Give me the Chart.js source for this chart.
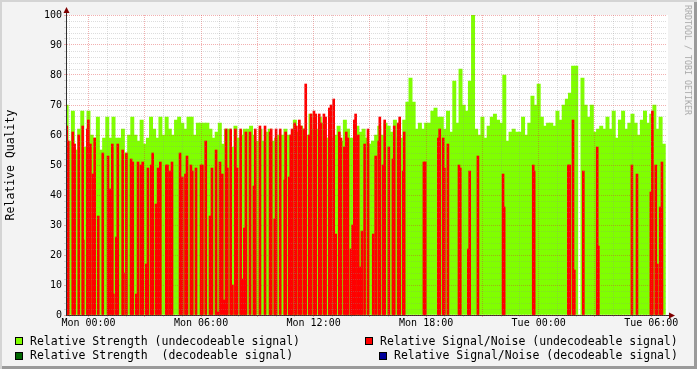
<!DOCTYPE html>
<html>
<head>
<meta charset="utf-8">
<script src="https://cdn.jsdelivr.net/npm/chart.js@4.4.1/dist/chart.umd.min.js"></script>
<style>
  html, body { margin: 0; padding: 0; }
  #wrap {
    position: relative; width: 697px; height: 369px; overflow: hidden;
    background: #f3f3f3;
    box-shadow: inset 2px 2px 0 #d4d4d4, inset -3px -3px 0 #9a9a9a;
    font-family: 'DejaVu Sans Mono', monospace;
  }
  #chart { position: absolute; left: 0; top: 0; }
  .lg { position: absolute; font-size: 11.5px; line-height: 14px; white-space: pre; color: #000; }
  .box { position: absolute; width: 6px; height: 6px; border: 1px solid #000; }
  #wm {
    position: absolute; left: 688px; top: 60px; font-size: 8.3px; color: #a8a8a8;
    white-space: pre; transform: translate(-50%, -50%) rotate(90deg);
  }
</style>
</head>
<body>
<div id="wrap">
  <canvas id="chart" width="697" height="369"></canvas>
  <div id="wm">RRDTOOL / TOBI OETIKER</div>

  <span class="box" style="left:15px;top:337px;background:#80ff00"></span>
  <div class="lg" style="left:30px;top:334px">Relative Strength (undecodeable signal)</div>
  <span class="box" style="left:15px;top:352px;background:#006600"></span>
  <div class="lg" style="left:30px;top:348px">Relative Strength  (decodeable signal)</div>

  <span class="box" style="left:365px;top:337px;background:#ff0000"></span>
  <div class="lg" style="left:380px;top:334px">Relative Signal/Noise (undecodeable signal)</div>
  <span class="box" style="left:379px;top:352px;background:#000099"></span>
  <div class="lg" style="left:394px;top:348px">Relative Signal/Noise (decodeable signal)</div>
</div>

<script>
// time window, hours from Mon 00:00
var xMin = -1.2;
var xMax = 30.84;

// relative strength, undecodeable signal: one value per 10 minutes from Sun 22:50
var firstMin = -70;
var stepMin = 10;
var strengthUndecoded = [
  70, 58, 68, 55, 62, 68, 56, 68, 60, 59, 66, 55,
  59, 66, 59, 66, 59, 59, 62, 54, 60, 66, 60, 58,
  65, 57, 59, 66, 62, 59, 66, 60, 66, 62, 60, 65,
  66, 64, 62, 66, 66, 60, 64, 64, 64, 64, 62, 59,
  61, 64, 57, 62, 62, 56, 63, 59, 60, 62, 62, 63,
  60, 58, 62, 58, 61, 62, 58, 59, 60, 60, 62, 60,
  60, 65, 61, 63, 62, 60, 67, 62, 62, 66, 64, 59,
  59, 59, 60, 63, 58, 65, 62, 59, 58, 63, 61, 62,
  59, 57, 58, 60, 63, 60, 64, 63, 61, 65, 59, 59,
  65, 71, 79, 71, 62, 64, 62, 64, 64, 68, 69, 66,
  66, 62, 68, 61, 78, 64, 82, 70, 68, 78, 100, 62,
  60, 66, 59, 63, 66, 67, 65, 64, 80, 58, 61, 62,
  61, 61, 66, 60, 64, 73, 70, 77, 66, 63, 64, 64,
  63, 68, 65, 70, 72, 74, 83, 83, 0, 79, 70, 66,
  70, 61, 62, 63, 62, 66, 62, 68, 59, 65, 68, 62,
  64, 67, 64, 60, 65, 68, 64, 67, 70, 62, 66, 57
];

// relative signal/noise, undecodeable signal: sample time (hours) and value
var snrHours = [
  -1.16, -1.08, -0.84, -0.74, -0.52, -0.31, -0.28, -0.06, -0.01, 0.10,
  0.24, 0.33, 0.52, 0.76, 1.04, 1.13, 1.27, 1.32, 1.48, 1.56,
  1.82, 1.86, 2.02, 2.27, 2.36, 2.55, 2.64, 2.80, 2.89, 3.08,
  3.17, 3.35, 3.42, 3.60, 3.71, 3.83, 4.15, 4.21, 4.34, 4.45,
  4.88, 5.00, 5.17, 5.25, 5.46, 5.53, 5.73, 6.00, 6.07, 6.25,
  6.48, 6.58, 6.80, 6.89, 7.01, 7.13, 7.24, 7.33, 7.40, 7.58,
  7.67, 7.83, 7.92, 8.11, 8.20, 8.31, 8.39, 8.61, 8.82, 8.89,
  9.14, 9.41, 9.68, 9.74, 9.93, 10.00, 10.22, 10.46, 10.51, 10.70,
  10.78, 10.85, 10.99, 11.08, 11.24, 11.33, 11.49, 11.58, 11.77, 11.86,
  12.02, 12.11, 12.30, 12.38, 12.55, 12.64, 12.84, 12.93, 13.07, 13.18,
  13.37, 13.46, 13.64, 13.74, 13.83, 13.99, 14.08, 14.17, 14.24, 14.38,
  14.49, 14.58, 14.72, 14.90, 15.18, 15.31, 15.47, 15.53, 15.71, 15.79,
  16.01, 16.23, 16.30, 16.51, 16.59, 16.78, 16.83, 17.88, 17.95, 18.65,
  18.72, 18.91, 18.97, 19.16, 19.75, 19.82, 20.25, 20.32, 20.76, 22.10,
  22.16, 23.71, 23.76, 25.58, 25.65, 25.83, 25.90, 26.38, 27.12, 27.18,
  28.97, 29.24, 29.98, 30.06, 30.24, 30.32, 30.48, 30.57
];
var snrUndecoded = [
  63, 58, 61, 57, 60, 63, 25, 62, 65, 57,
  47, 59, 33, 54, 53, 42, 57, 7, 26, 57,
  55, 14, 54, 52, 51, 7, 51, 50, 51, 17,
  49, 50, 54, 37, 49, 51, 50, 50, 48, 51,
  54, 46, 47, 53, 50, 48, 49, 50, 50, 58,
  33, 49, 55, 1, 51, 47, 5, 62, 49, 62,
  10, 62, 49, 62, 12, 29, 61, 61, 43, 62,
  63, 63, 61, 62, 32, 62, 62, 45, 61, 46,
  60, 62, 64, 63, 65, 63, 62, 77, 60, 67,
  68, 67, 67, 64, 67, 66, 69, 70, 72, 27,
  61, 59, 56, 61, 59, 22, 30, 65, 67, 60,
  16, 28, 57, 62, 27, 53, 58, 66, 50, 65,
  56, 52, 63, 64, 66, 48, 61, 51, 51, 59,
  62, 59, 49, 57, 50, 49, 22, 48, 53, 47,
  36, 50, 48, 50, 50, 65, 15, 48, 56, 23,
  50, 47, 41, 68, 50, 17, 36, 51
];

// decodeable signal: nothing in this window
var strengthDecoded = [];
var snrDecoded = [];

// grid: every hour / every 2 units, major every 3 hours / 10 units
var hourTicks = [];
for (var h = -1; h <= 30; h++) hourTicks.push(h);
var qualityTicks = [];
for (var q = 0; q <= 100; q += 2) qualityTicks.push(q);

var fontFamily = "'DejaVu Sans Mono', monospace";

function gridColor(major) {
  return major ? 'rgba(222, 48, 48, 0.38)' : 'rgba(143, 143, 143, 0.3)';
}

function hourLabel(v) {
  if (v < 0 || v % 6 !== 0) return '';
  var day = v < 24 ? 'Mon' : 'Tue';
  var hh = v % 24;
  return day + ' ' + (hh < 10 ? '0' : '') + hh + ':00';
}

var strengthPoints = strengthUndecoded.map(function(v, i) {
  return { x: (firstMin + i * stepMin) / 60, y: v };
});
var snrPoints = snrHours.map(function(h, i) {
  return { x: h, y: snrUndecoded[i] };
});

// white canvas + rrdtool style arrows
var rrdFrame = {
  id: 'rrdFrame',
  beforeDraw: function(chart) {
    var ctx = chart.ctx, a = chart.chartArea;
    ctx.save();
    ctx.fillStyle = '#ffffff';
    ctx.fillRect(a.left, a.top, a.right - a.left + 1, a.bottom - a.top);
    ctx.restore();
  },
  afterDraw: function(chart) {
    var ctx = chart.ctx, a = chart.chartArea;
    var x0 = Math.round(a.left) + 0.5, y0 = Math.round(a.bottom) + 0.5;
    ctx.save();
    ctx.strokeStyle = '#303030';
    ctx.lineWidth = 1;
    ctx.beginPath();
    ctx.moveTo(x0, a.top); ctx.lineTo(x0, a.top - 3);
    ctx.moveTo(a.right, y0); ctx.lineTo(a.right + 2, y0);
    ctx.stroke();
    ctx.fillStyle = '#800000';
    ctx.beginPath();
    ctx.moveTo(x0, a.top - 8); ctx.lineTo(x0 - 3, a.top - 2); ctx.lineTo(x0 + 3, a.top - 2);
    ctx.closePath(); ctx.fill();
    ctx.beginPath();
    ctx.moveTo(a.right + 8, y0); ctx.lineTo(a.right + 2, y0 - 3); ctx.lineTo(a.right + 2, y0 + 3);
    ctx.closePath(); ctx.fill();
    ctx.restore();
  }
};

var ctx = document.getElementById('chart').getContext('2d');
var qualityChart = new Chart(ctx, {
  type: 'bar',
  data: {
    datasets: [{
      label: 'Relative Signal/Noise (undecodeable signal)',
      data: snrPoints,
      backgroundColor: '#ff0000',
      barThickness: 2,
      grouped: false
    },
    {
      label: 'Relative Signal/Noise (decodeable signal)',
      data: snrDecoded,
      backgroundColor: '#000099',
      barThickness: 2,
      grouped: false
    },
    {
      label: 'Relative Strength (undecodeable signal)',
      data: strengthPoints,
      backgroundColor: '#80ff00',
      barThickness: 3.3,
      grouped: false
    },
    {
      label: 'Relative Strength  (decodeable signal)',
      data: strengthDecoded,
      backgroundColor: '#006600',
      barThickness: 3.3,
      grouped: false
    }]
  },
  options: {
    responsive: false,
    animation: false,
    devicePixelRatio: 1,
    events: [],
    layout: { padding: { top: 15, right: 30, bottom: 34, left: 0 } },
    plugins: {
      legend: { display: false },
      tooltip: { enabled: false }
    },
    scales: {
      x: {
        type: 'linear',
        min: xMin,
        max: xMax,
        offset: false,
        afterBuildTicks: function(s) { s.ticks = hourTicks.map(function(v) { return { value: v }; }); },
        afterFit: function(s) { s.height = 20; },
        grid: {
          offset: false,
          color: function(c) { return gridColor(c.tick.value % 3 === 0); },
          tickLength: 2,
          z: 1
        },
        border: { color: '#303030', dash: [1, 1], z: 1 },
        ticks: {
          autoSkip: false, maxRotation: 0, minRotation: 0, padding: 0,
          color: '#000', font: { family: fontFamily, size: 10 },
          callback: function(v) { return hourLabel(v); }
        }
      },
      y: {
        min: 0,
        max: 100,
        afterBuildTicks: function(s) { s.ticks = qualityTicks.map(function(v) { return { value: v }; }); },
        afterFit: function(s) { s.width = 66; },
        grid: {
          color: function(c) { return gridColor(c.tick.value % 10 === 0); },
          tickLength: 2,
          z: 1
        },
        border: { color: '#303030', dash: [1, 1], z: 1 },
        ticks: {
          autoSkip: false, padding: 2,
          color: '#000', font: { family: fontFamily, size: 10 },
          callback: function(v) { return v % 10 === 0 ? v : ''; }
        },
        title: {
          display: true,
          text: 'Relative Quality',
          color: '#000',
          font: { family: fontFamily, size: 11.5 },
          padding: { top: 4, bottom: 0 }
        }
      }
    }
  },
  plugins: [rrdFrame]
});
</script>
</body>
</html>
